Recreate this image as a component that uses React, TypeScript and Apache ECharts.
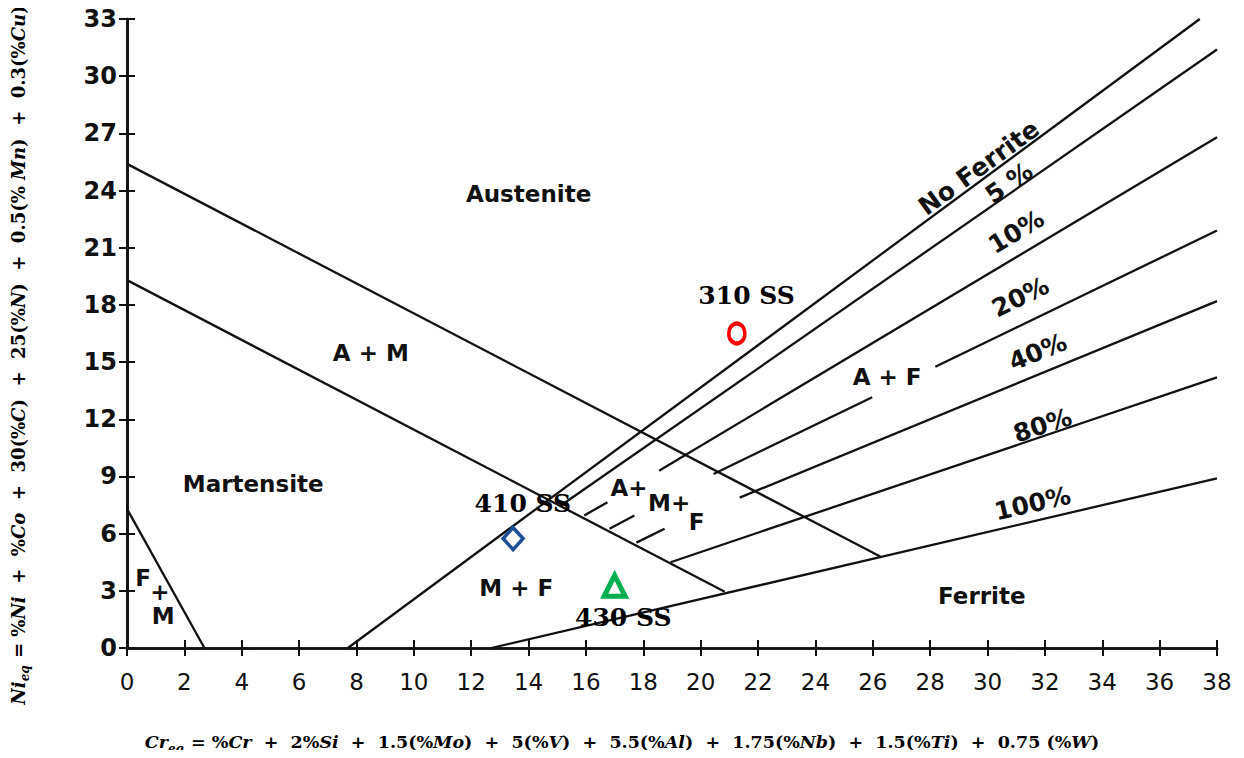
import React, { useEffect, useRef } from 'react';
import * as echarts from 'echarts';

// Axis ranges
const X_MIN = 0;
const X_MAX = 38;
const X_STEP = 2;
const Y_MIN = 0;
const Y_MAX = 33;
const Y_STEP = 3;

// Boundary lines of the Schaeffler diagram, [Cr_eq, Ni_eq]
const noFerriteLine = [[[7.7, 0], [37.4, 33]]];
const upperMartLine = [[[0, 25.4], [26.26, 4.8]]];
const lowerMartLine = [[[0, 19.3], [20.84, 2.95]]];
const fmLine = [[[0, 7.3], [2.7, 0]]];
const ferrite5Line = [[[15.1, 7.45], [38, 31.4]]];
const ferrite10Line = [
  [[15.94, 6.95], [16.75, 7.65]],
  [[18.55, 9.3], [38, 26.8]],
];
const ferrite20Line = [
  [[16.82, 6.26], [17.69, 6.95]],
  [[20.45, 9.13], [25.98, 13.16]],
  [[28.18, 14.76], [38, 21.9]],
];
const ferrite40Line = [
  [[17.76, 5.53], [18.74, 6.26]],
  [[21.36, 7.89], [38, 18.2]],
];
const ferrite80Line = [[[18.95, 4.5], [38, 14.2]]];
const ferrite100Line = [[[12.7, 0], [38, 8.9]]];

// Region labels
const regionNames = ['Austenite', 'A + M', 'Martensite', 'F', '+', 'M', 'M + F', 'A+', 'M+', 'F', 'A + F', 'Ferrite'];
const regionAt = [
  [14.0, 23.8], [8.5, 15.5], [4.4, 8.6], [0.56, 3.68], [1.15, 2.95], [1.26, 1.68],
  [13.57, 3.16], [17.5, 8.4], [18.9, 7.6], [19.86, 6.63], [26.5, 14.2], [29.8, 2.74],
];

// Ferrite percentage labels
const ferriteNames = ['No Ferrite', '5 %', '10%', '20%', '40%', '80%', '100%'];
const ferriteAt = [
  [29.7, 25.2], [30.75, 24.4], [31.0, 21.84], [31.15, 18.42], [31.75, 15.53], [31.92, 11.68], [31.57, 7.58],
];
const ferriteAngle = [36, 35, 31, 26, 22, 18, 13];

// Steels
const steelNames = ['310 SS', '410 SS', '430 SS'];
const steelPoints = [[21.26, 16.5], [13.46, 5.74], [17.0, 3.26]];
const steelLabelAt = [[21.6, 18.5], [13.8, 7.58], [17.3, 1.58]];
const steelSymbols = ['circle', 'diamond', 'triangle'];
const steelColors = ['#ff0000', '#1f4e96', '#00b050'];

const yTitleFormula = ' = %Ni  +  %Co  +  30(%C)  +  25(%N)  +  0.5(% Mn)  +  0.3(%Cu)';
const xTitleFormula = ' = %Cr  +  2%Si  +  1.5(%Mo)  +  5(%V)  +  5.5(%Al)  +  1.75(%Nb)  +  1.5(%Ti)  +  0.75 (%W)';

function toRich(main: string, formula: string): string {
  const parts = formula.match(/[A-Za-z]+|[^A-Za-z]+/g) || [];
  return (
    `{i|${main}}{s|eq}` +
    parts.map((p) => (/^[A-Za-z]/.test(p) ? `{i|${p}}` : `{r|${p}}`)).join('')
  );
}

function makeRich(size: number) {
  const fam = 'DejaVu Serif';
  return {
    i: { fontFamily: fam, fontStyle: 'italic', fontWeight: 'bold', fontSize: size, fill: '#000', lineHeight: 26 },
    r: { fontFamily: fam, fontWeight: 'bold', fontSize: size, fill: '#000', lineHeight: 26 },
    s: { fontFamily: fam, fontStyle: 'italic', fontWeight: 'bold', fontSize: 12, fill: '#000', lineHeight: 12, padding: [14, 1, 0, 0] },
  };
}

export default function App() {
  const ref = useRef<HTMLDivElement>(null);

  useEffect(() => {
    if (!ref.current) return;
    const chart = echarts.init(ref.current, undefined, { renderer: 'svg' });

    const lineStyle = { color: '#111', width: 2.3 };
    const allLines = [
      ...noFerriteLine, ...upperMartLine, ...lowerMartLine, ...fmLine,
      ...ferrite5Line, ...ferrite10Line, ...ferrite20Line, ...ferrite40Line,
      ...ferrite80Line, ...ferrite100Line,
    ];
    const lineSeries = allLines.map((seg) => ({
      type: 'line',
      data: seg,
      symbol: 'none',
      silent: true,
      lineStyle,
      z: 2,
    }));

    const axisLine = { show: true, lineStyle: { color: '#111', width: 2.6 } };
    const axisTick = { show: true, inside: true, length: 8, lineStyle: { color: '#111', width: 2 } };
    const hidden = { color: 'rgba(0,0,0,0)', opacity: 1 };

    const option: any = {
      animation: false,
      backgroundColor: '#fff',
      grid: { left: 127, right: 27, top: 19, bottom: 110, containLabel: false },
      xAxis: [
        {
          type: 'value', min: X_MIN, max: X_MAX, interval: X_STEP, position: 'bottom',
          axisLine, axisTick, splitLine: { show: false },
          axisLabel: { margin: 22, fontFamily: 'DejaVu Sans', fontSize: 23, color: '#111' },
        },
        {
          type: 'value', min: X_MIN, max: X_MAX, interval: X_STEP, position: 'top',
          axisLine, axisTick, splitLine: { show: false }, axisLabel: { show: false },
        },
      ],
      yAxis: [
        {
          type: 'value', min: Y_MIN, max: Y_MAX, interval: Y_STEP, position: 'left',
          axisLine, axisTick, splitLine: { show: false },
          axisLabel: { margin: 10, fontFamily: 'DejaVu Sans', fontWeight: 'bold', fontSize: 24, color: '#111' },
        },
        {
          type: 'value', min: Y_MIN, max: Y_MAX, interval: Y_STEP, position: 'right',
          axisLine, axisTick, splitLine: { show: false }, axisLabel: { show: false },
        },
      ],
      series: [
        ...lineSeries,
        {
          type: 'scatter',
          silent: true,
          symbolSize: 1,
          itemStyle: hidden,
          z: 5,
          label: {
            show: true, position: 'inside', formatter: '{b}',
            fontFamily: 'DejaVu Sans', fontWeight: 'bold', fontSize: 23, color: '#111',
          },
          data: regionNames.map((n, i) => ({ name: n, value: regionAt[i] })),
        },
        {
          type: 'scatter',
          silent: true,
          symbolSize: 1,
          itemStyle: hidden,
          z: 5,
          label: {
            show: true, position: 'inside', formatter: '{b}',
            fontFamily: 'DejaVu Sans', fontWeight: 'bold', fontSize: 25, color: '#111',
          },
          data: ferriteNames.map((n, i) => ({ name: n, value: ferriteAt[i], label: { rotate: ferriteAngle[i] } })),
        },
        {
          type: 'scatter',
          silent: true,
          z: 6,
          data: steelNames.map((n, i) => ({
            name: n,
            value: steelPoints[i],
            symbol: steelSymbols[i],
            symbolSize: i === 0 ? [16, 20] : i === 1 ? [20, 22] : [21, 21],
            itemStyle: {
              color: 'rgba(255,255,255,0)',
              opacity: 1,
              borderColor: steelColors[i],
              borderWidth: i === 0 ? 4 : i === 1 ? 3.5 : 5,
            },
          })),
        },
        {
          type: 'scatter',
          silent: true,
          symbolSize: 1,
          itemStyle: hidden,
          z: 7,
          label: {
            show: true, position: 'inside', formatter: '{b}',
            fontFamily: 'DejaVu Serif', fontWeight: 'bold', fontSize: 25, color: '#000',
          },
          data: steelNames.map((n, i) => ({ name: n, value: steelLabelAt[i] })),
        },
      ],
      graphic: [
        {
          type: 'text',
          x: 18,
          y: 355,
          rotation: Math.PI / 2,
          style: {
            text: toRich('Ni', yTitleFormula),
            rich: makeRich(18),
            align: 'center',
            verticalAlign: 'middle',
          },
        },
        {
          type: 'text',
          x: 622,
          y: 742,
          style: {
            text: toRich('Cr', xTitleFormula),
            rich: makeRich(17.5),
            align: 'center',
            verticalAlign: 'middle',
          },
        },
      ],
    };

    chart.setOption(option);
    return () => chart.dispose();
  }, []);

  return <div ref={ref} style={{ width: 1244, height: 758, margin: -8 }} />;
}
